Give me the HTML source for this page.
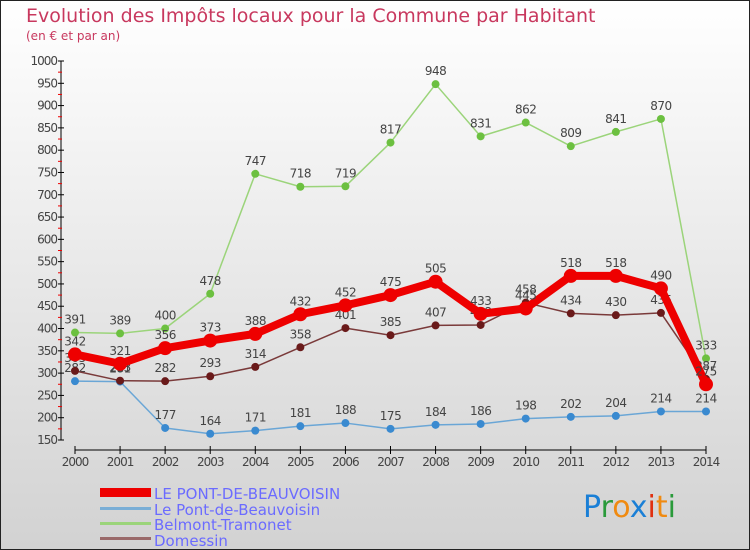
<!DOCTYPE html>
<html><head><meta charset="utf-8"><style>
body{margin:0;}
#c{width:750px;height:550px;position:relative;background:linear-gradient(#ffffff,#d2d2d2);font-family:"DejaVu Sans","Liberation Sans",sans-serif;}
svg{position:absolute;left:0;top:0}
</style></head><body>
<div id="c">
<svg id="s" width="750" height="550">
<rect x="0.5" y="0.5" width="749" height="549" fill="none" stroke="#222"/>
<text x="26" y="22" font-size="19" fill="#c8385e">Evolution des Impôts locaux pour la Commune par Habitant</text>
<text x="26" y="40" font-size="12" fill="#c8385e">(en € et par an)</text>
<g id="axes"></g><g id="series"></g>
<g>
<rect x="100" y="488" width="51" height="9" fill="#ee0000"/>
<text x="154" y="499" font-size="15" fill="#6b6bff">LE PONT-DE-BEAUVOISIN</text>
<rect x="100" y="507" width="51" height="3" fill="#7aaed6"/>
<text x="154" y="515" font-size="15" fill="#6b6bff">Le Pont-de-Beauvoisin</text>
<rect x="100" y="522" width="51" height="3" fill="#9bd47a"/>
<text x="154" y="530" font-size="15" fill="#6b6bff">Belmont-Tramonet</text>
<rect x="100" y="537" width="51" height="3" fill="#9a6a6a"/>
<text x="154" y="546" font-size="15" fill="#6b6bff">Domessin</text>
</g>
<g font-size="30" font-family="'DejaVu Sans',sans-serif">
<text x="583" y="517"><tspan fill="#1a7fd6">P</tspan><tspan fill="#2a9a3a">r</tspan><tspan fill="#f08a10">o</tspan><tspan fill="#1a7fd6">x</tspan><tspan fill="#e03010">i</tspan><tspan fill="#f08a10">t</tspan><tspan fill="#2a9a3a">i</tspan></text>
</g>
</svg></div>
<script>
const years=[2000,2001,2002,2003,2004,2005,2006,2007,2008,2009,2010,2011,2012,2013,2014];
const yTicks=[150,200,250,300,350,400,450,500,550,600,650,700,750,800,850,900,950,1000];
const redVals=[342,321,356,373,388,432,452,475,505,433,445,518,518,490,275];
const blueVals=[282,281,177,164,171,181,188,175,184,186,198,202,204,214,214];
const greenVals=[391,389,400,478,747,718,719,817,948,831,862,809,841,870,333];
const domVals=[305,283,282,293,314,358,401,385,407,408,458,434,430,435,287];
const NS="http://www.w3.org/2000/svg";
function X(i){return 75+i*(631/14);}
function Y(v){return 440-(v-150)*(379/850);}
function mk(t,a,p){const e=document.createElementNS(NS,t);for(const k in a)e.setAttribute(k,a[k]);p.appendChild(e);return e;}
const ax=document.getElementById('axes');
let e=mk('line',{x1:61,y1:Y(1000),x2:61,y2:440,stroke:'#000'},ax);


yTicks.forEach(v=>{
 mk('line',{x1:58,y1:Y(v),x2:64,y2:Y(v),stroke:'#000'},ax);
 if(v<1000)mk('line',{x1:58,y1:Y(v+25),x2:62,y2:Y(v+25),stroke:'#e00'},ax);
 const t=mk('text',{x:57,y:Y(v)+4,'font-size':12,fill:'#444','text-anchor':'end','letter-spacing':'-1'},ax);
 t.textContent=v;
 
 
});
e=mk('line',{x1:75,y1:450,x2:706,y2:450,stroke:'#000'},ax);


years.forEach((y,i)=>{
 mk('line',{x1:X(i),y1:446,x2:X(i),y2:454,stroke:'#000'},ax);
 const t=mk('text',{x:X(i),y:466,'font-size':12,fill:'#444','text-anchor':'middle','letter-spacing':'-1'},ax);
 t.textContent=y;
 
 
});
const sg=document.getElementById('series');
function series(vals,name,color,w,r,dot){
 const g=mk('g',{},sg);
 
 
 const l=mk('polyline',{points:vals.map((v,i)=>X(i)+','+Y(v)).join(' '),fill:'none',stroke:color,'stroke-width':w,'stroke-linejoin':'round'},g);
 
 
 vals.forEach((v,i)=>{
  const c=mk('circle',{cx:X(i),cy:Y(v),r:r,fill:dot},g);
  
  
  const t=mk('text',{x:X(i),y:Y(v)-9,'font-size':12,fill:'#444','text-anchor':'middle','letter-spacing':'-0.5'},g);
  t.textContent=v;
  
  
 });
}
series(blueVals,'le-pont-de-beauvoisin-series','#6aa6d6',1.5,4,'#3a8ad0');
series(greenVals,'belmont-tramonet-series','#9bd47a',1.5,4,'#6cc040');
series(domVals,'domessin-series','#7a3a3a',1.5,4,'#6a1a1a');
series(redVals,'LE-PONT-DE-BEAUVOISIN-series'.toLowerCase(),'#ee0000',8,7,'#ee0000');
</script>
</body></html>
